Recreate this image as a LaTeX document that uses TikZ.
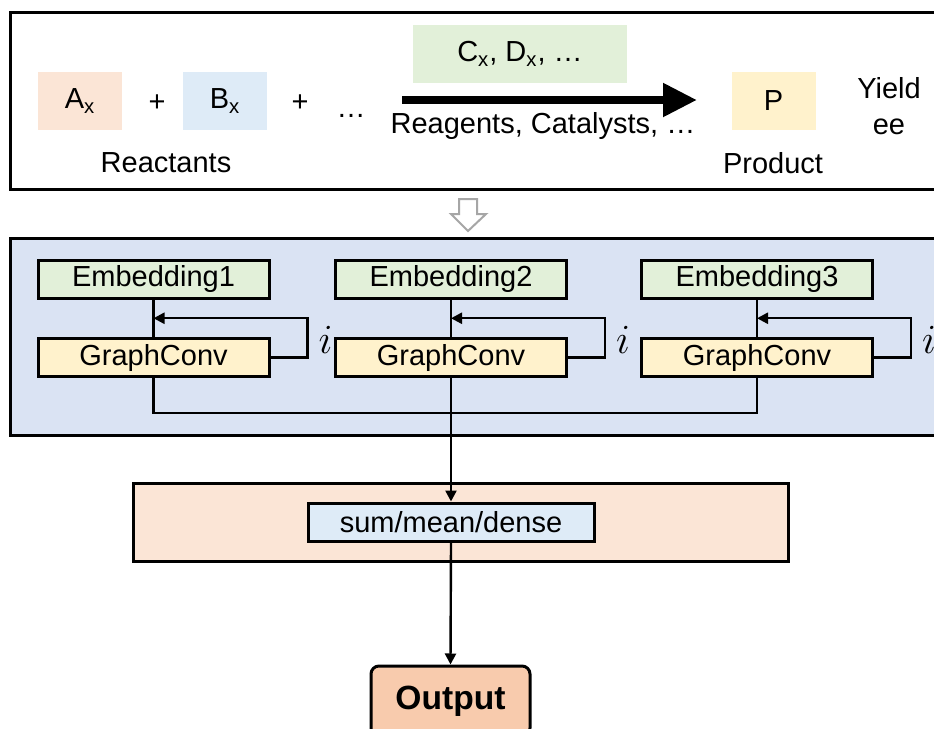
\documentclass[tikz,border=0pt]{standalone}
\usepackage{fontspec}
\setmainfont{Liberation Sans}
\usetikzlibrary{arrows.meta,calc}

\definecolor{peach}{HTML}{FBE5D6}
\definecolor{sky}{HTML}{DEEBF7}
\definecolor{mint}{HTML}{E2F0D9}
\definecolor{cream}{HTML}{FFF2CC}
\definecolor{panel}{HTML}{DAE3F3}
\definecolor{salmon}{HTML}{F8CBAD}

\begin{document}
\begin{tikzpicture}[
    x=0.5pt, y=-0.5pt,
    font=\fontsize{14.5}{17}\selectfont,
    tag/.style={rectangle, minimum width=42pt, minimum height=29pt, inner sep=0pt},
    block/.style={rectangle, draw, line width=1.5pt, minimum width=115.5pt, minimum height=19pt, inner sep=0pt},
    link/.style={line width=1.2pt},
    flow/.style={-{Triangle[length=5.5pt,width=5.5pt]}}
]
    \clip (0,0) rectangle (934,729);
    \fill[white] (0,0) rectangle (934,729);

    % Reaction
    \draw[line width=1.5pt] (10,12) rectangle (950,189);
    \node[tag, fill=peach] (ax) at (80,101) {A\textsubscript{x}};
    \node (plus1) at (157,103) {+};
    \node[tag, fill=sky] (bx) at (225,101) {B\textsubscript{x}};
    \node (plus2) at (300,103) {+};
    \node (more) at (351,116) {…};
    \node (reactants) at (166,163) {Reactants};
    \node[tag, fill=mint, minimum width=107pt] (cd) at (520,54) {C\textsubscript{x}, D\textsubscript{x}, …};
    \coordinate (rxs) at (402,100);
    \coordinate (rxe) at (697,100);
    \draw[line width=4pt, -{Triangle[length=17pt,width=16pt]}] (rxs) -- (rxe);
    \node (reagents) at (543,126) {Reagents, Catalysts, …};
    \node[tag, fill=cream] (p) at (773.5,101) {P};
    \node (product) at (773,163) {Product};
    \node[align=center, font=\fontsize{14.5}{18}\selectfont] (yield) at (889,106) {Yield\\ee};

    % Step down
    \draw[gray!70, line width=1pt, fill=white] (459,199) -- (477,199) -- (477,214) -- (486,214)
        -- (468,231) -- (451,214) -- (459,214) -- cycle;

    % Encoders
    \draw[line width=1.5pt, fill=panel] (10,238) rectangle (950,435);
    \foreach \n/\cx in {1/153.5, 2/451, 3/757} {
        \node[block, fill=mint] (emb\n) at (\cx,279) {Embedding\n};
        \node[block, fill=cream] (gc\n) at (\cx,357.5) {GraphConv};
        \draw[link] (emb\n) -- (gc\n);
        \draw[link, flow] (gc\n.east) -- ++(37,0) |- ($(emb\n.south)!0.5!(gc\n.north)$);
        \node (it\n) at ($(gc\n.east)+(55,-18)$) {\fontsize{21}{22}\selectfont$i$};
    }
    \coordinate (bus) at (451,413);
    \draw[link] (gc1.south) |- (bus) -| (gc3.south);

    % Readout
    \draw[line width=1.5pt, fill=peach] (133,483) rectangle (788,561);
    \node[block, fill=sky, minimum width=143pt] (pool) at (451,522) {sum/mean/dense};
    \draw[link, flow] (gc2.south) -- (pool.north);
    \node[draw, rounded corners=4pt, line width=1.5pt, fill=salmon, minimum width=79.5pt,
        minimum height=35pt, font=\fontsize{16.8}{20}\selectfont\bfseries] (out) at (450.5,701) {Output};
    \draw[link, flow] (pool.south) -- (out.north);
\end{tikzpicture}
\end{document}
